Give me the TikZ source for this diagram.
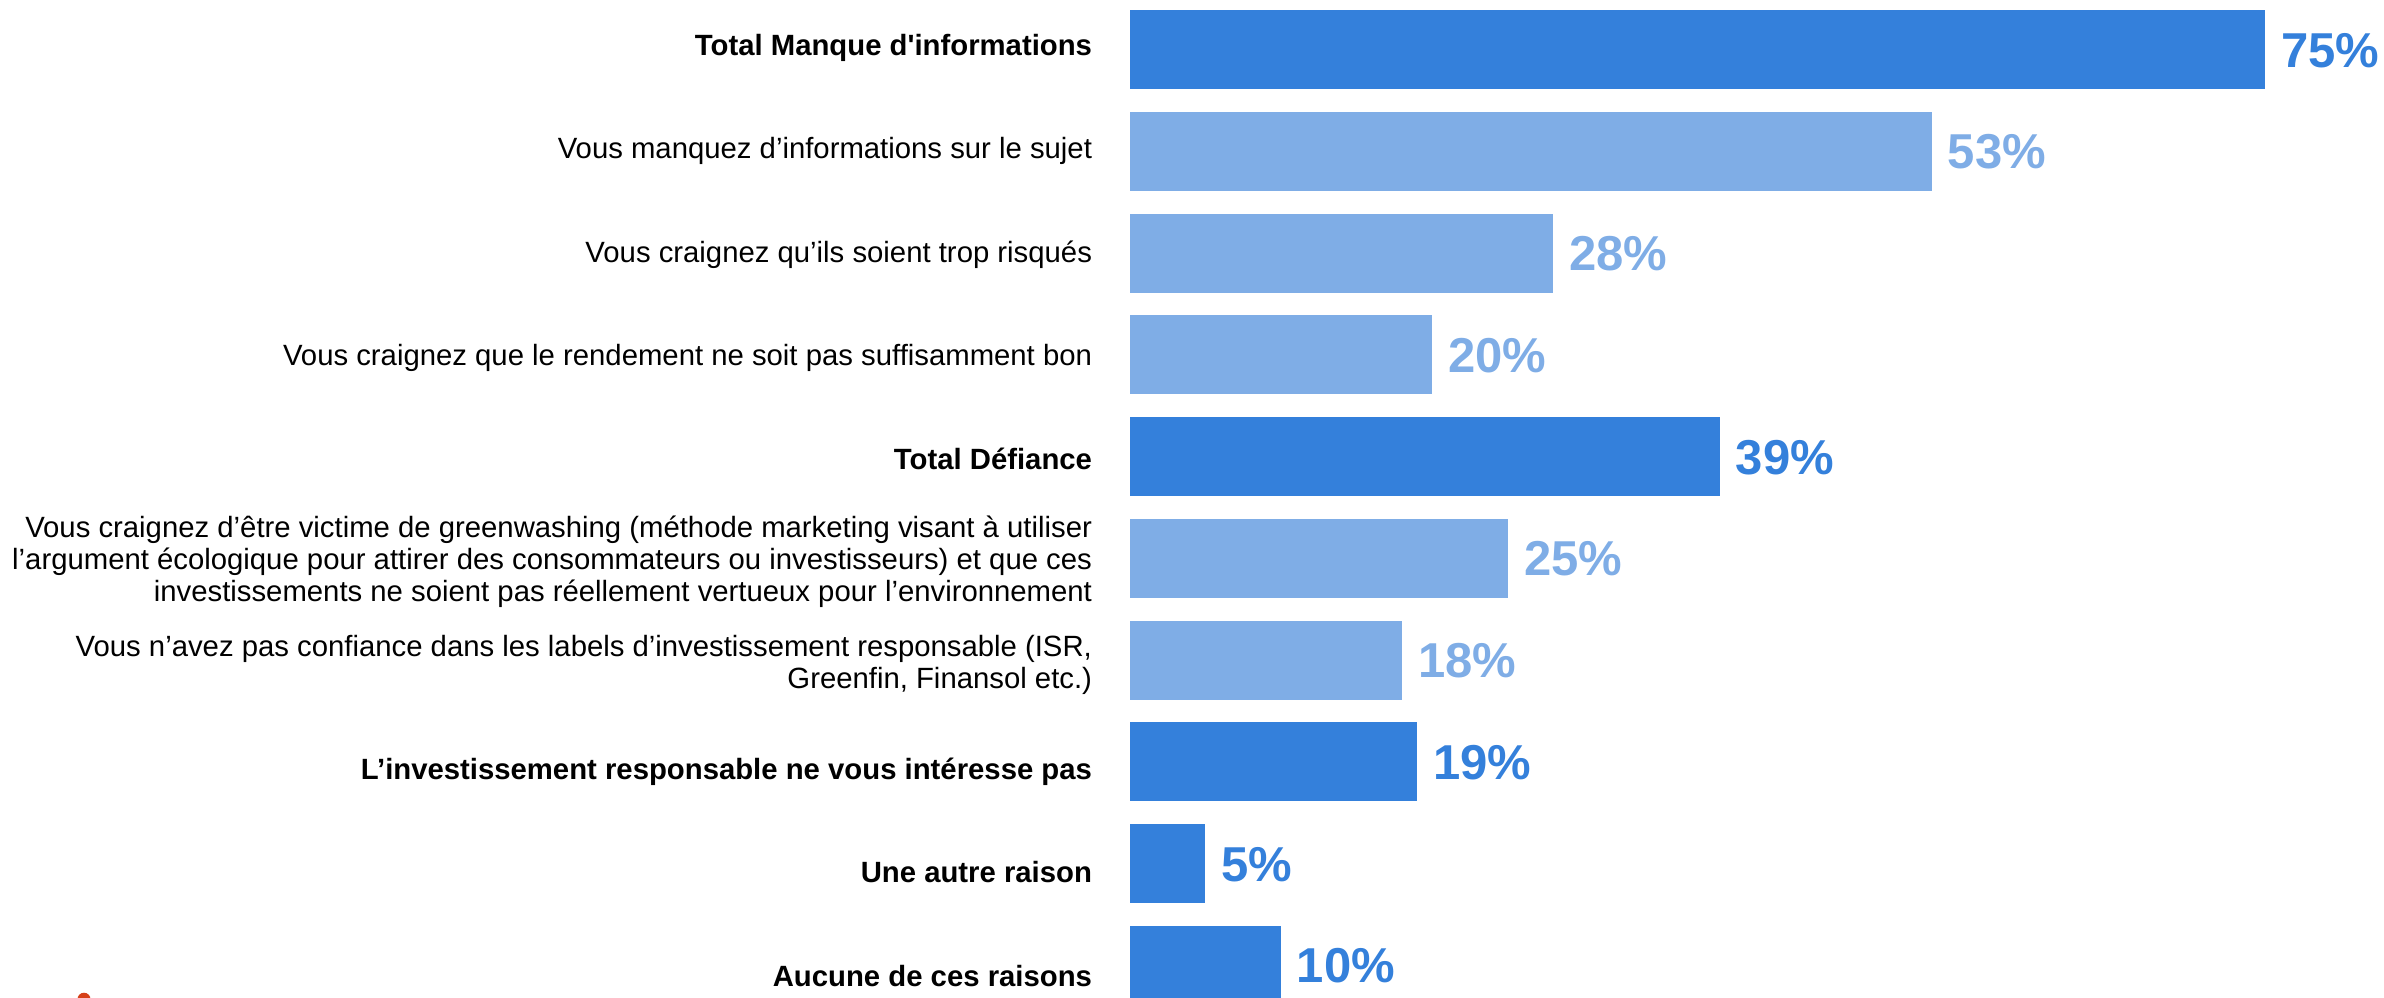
\documentclass[tikz,border=0pt]{standalone}
\usepackage{fontspec}
\setmainfont{Liberation Sans}[Ligatures=TeXOff]
\definecolor{darkb}{RGB}{52,128,219}
\definecolor{lightb}{RGB}{127,173,230}
\definecolor{logored}{RGB}{214,64,24}
\begin{document}
\begin{tikzpicture}[x=0.5pt,y=-0.5pt,
  bar/.style={draw=none, inner sep=0pt, outer sep=0pt, anchor=north west, minimum height=39.5pt},
  dbar/.style={bar, fill=darkb},
  lbar/.style={bar, fill=lightb},
  cat/.style={inner sep=0pt, outer sep=0pt, anchor=base east, align=right, text=black, font=\fontsize{14.65pt}{16pt}\selectfont},
  catm/.style={cat, anchor=east},
  catb/.style={cat, font=\fontsize{14.65pt}{16pt}\selectfont\bfseries},
  val/.style={inner sep=0pt, outer sep=0pt, anchor=base west, font=\fontsize{24.5pt}{28pt}\selectfont\bfseries},
  dval/.style={val, text=darkb},
  lval/.style={val, text=lightb},
]
\useasboundingbox (0,0) rectangle (2384,997);
\clip (0,0) rectangle (2384,997);

% bars
\node[dbar, minimum width=567.75pt] (b0) at (1129.5,10) {};
\node[lbar, minimum width=401.21pt] (b1) at (1129.5,111.75) {};
\node[lbar, minimum width=211.96pt] (b2) at (1129.5,213.5) {};
\node[lbar, minimum width=151.4pt]  (b3) at (1129.5,315.25) {};
\node[dbar, minimum width=295.23pt] (b4) at (1129.5,417) {};
\node[lbar, minimum width=189.25pt] (b5) at (1129.5,518.75) {};
\node[lbar, minimum width=136.26pt] (b6) at (1129.5,620.5) {};
\node[dbar, minimum width=143.83pt] (b7) at (1129.5,722.25) {};
\node[dbar, minimum width=37.85pt]  (b8) at (1129.5,824) {};
\node[dbar, minimum width=75.7pt]   (b9) at (1129.5,925.75) {};

% values
\node[dval] (v0) at ([xshift=8pt,yshift=-8.75pt]b0.east) {75\%};
\node[lval] (v1) at ([xshift=8pt,yshift=-8.75pt]b1.east) {53\%};
\node[lval] (v2) at ([xshift=8pt,yshift=-8.75pt]b2.east) {28\%};
\node[lval] (v3) at ([xshift=8pt,yshift=-8.75pt]b3.east) {20\%};
\node[dval] (v4) at ([xshift=8pt,yshift=-8.75pt]b4.east) {39\%};
\node[lval] (v5) at ([xshift=8pt,yshift=-8.75pt]b5.east) {25\%};
\node[lval] (v6) at ([xshift=8pt,yshift=-8.75pt]b6.east) {18\%};
\node[dval] (v7) at ([xshift=8pt,yshift=-8.75pt]b7.east) {19\%};
\node[dval] (v8) at ([xshift=8pt,yshift=-8.75pt]b8.east) {5\%};
\node[dval] (v9) at ([xshift=8pt,yshift=-8.75pt]b9.east) {10\%};

% category labels
\node[catb] (c0) at (1092,55.5) {Total Manque d'informations};
\node[cat]  (c1) at (1092,158.9) {Vous manquez d’informations sur le sujet};
\node[cat]  (c2) at (1092,262.3) {Vous craignez qu’ils soient trop risqués};
\node[cat]  (c3) at (1092,365.7) {Vous craignez que le rendement ne soit pas suffisamment bon};
\node[catb] (c4) at (1092,469.1) {Total Défiance};
\node[catm] (c5) at (1092,562) {Vous craignez d’être victime de greenwashing (méthode marketing visant à utiliser\\l’argument écologique pour attirer des consommateurs ou investisseurs) et que ces\\investissements ne soient pas réellement vertueux pour l’environnement};
\node[catm] (c6) at (1092,665.4) {Vous n’avez pas confiance dans les labels d’investissement responsable (ISR,\\Greenfin, Finansol etc.)};
\node[catb] (c7) at (1092,779.3) {L’investissement responsable ne vous intéresse pas};
\node[catb] (c8) at (1092,882.7) {Une autre raison};
\node[catb] (c9) at (1092,986.1) {Aucune de ces raisons};

% partial logo mark at the bottom edge
\fill[logored] (84,999.2) circle (3.25pt);
\end{tikzpicture}
\end{document}
